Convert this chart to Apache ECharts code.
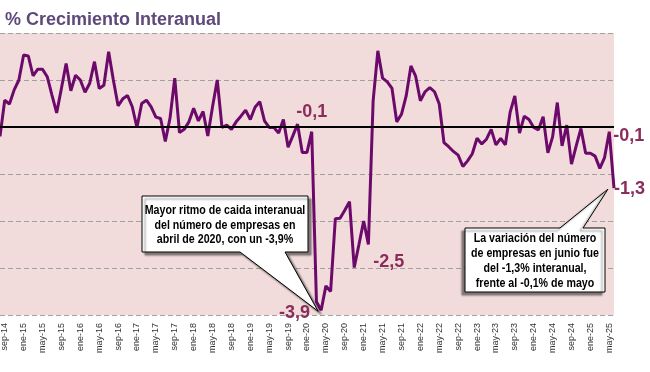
<!DOCTYPE html>
<html><head><meta charset="utf-8">
<script src="https://cdn.jsdelivr.net/npm/echarts@6/dist/echarts.min.js"></script>
<style>html,body{margin:0;padding:0;background:#fff}#c{width:650px;height:372px}</style>
</head><body><div id="c"></div>
<script>
const monthNames = ['ene','feb','mar','abr','may','jun','jul','ago','sep','oct','nov','dic'];
const startYear = 2014, startMonth = 7; // ago-14
const values = [
 -0.2, 0.57, 0.49, 0.79, 1.0, 1.53, 1.51, 1.09, 1.23, 1.23,
 1.07, 0.68, 0.30, 0.82, 1.35, 0.77, 1.1, 1.0, 0.74, 0.93,
 1.39, 0.82, 0.89, 1.60, 1.0, 0.45, 0.6, 0.67, 0.43, -0.01,
 0.5, 0.57, 0.43, 0.21, 0.18, -0.31, 0.19, 1.04, -0.12, -0.05,
 0.11, 0.40, 0.13, 0.33, -0.19, 0.43, 1.0, -0.01, 0.04, -0.05,
 0.11, 0.23, 0.36, 0.16, 0.42, 0.54, 0.13, -0.01, -0.01, -0.13,
 0.16, -0.43, -0.19, 0.06, -0.54, -0.54, -0.1, -3.72, -3.9, -3.38,
 -3.5, -1.95, -1.94, -1.77, -1.59, -2.99, -2.5, -2.0, -2.5, 0.55,
 1.62, 1.04, 0.96, 0.82, 0.11, 0.27, 0.66, 1.30, 1.08, 0.56,
 0.75, 0.84, 0.75, 0.49, -0.33, -0.42, -0.52, -0.6, -0.84, -0.72,
 -0.57, -0.24, -0.36, -0.26, -0.05, -0.38, -0.24, -0.38, 0.31, 0.66,
 -0.13, 0.23, 0.16, -0.01, -0.06, 0.22, -0.55, -0.21, 0.52, -0.40,
 0.04, -0.79, -0.40, -0.03, -0.56, -0.56, -0.62, -0.88, -0.65, -0.1,
 -1.3
];
const categories = [];
for (let i = 0; i < values.length; i++) {
  const m = (startMonth + i) % 12;
  const y = startYear + Math.floor((startMonth + i) / 12);
  categories.push(monthNames[m] + '-' + String(y).slice(2));
}
const titleText = '% Crecimiento Interanual';
const yTicks = { min: -4, max: 2, step: 1 };
const labeledPoints = [66, 68, 78, 129, 130];
const note1 = 'Mayor ritmo de caida interanual\ndel número de empresas en\nabril de 2020, con un -3,9%';
const note2 = 'La variación del número\nde empresas en junio fue\ndel -1,3% interanual,\nfrente al -0,1% de mayo';

const labelStyles = {
  66: { position: [0, -11], align: 'center', verticalAlign: 'bottom' },
  68: { position: [-11, 3], align: 'right', verticalAlign: 'middle' },
  78: { position: [5, 18], align: 'left', verticalAlign: 'middle' },
  129: { position: [4, 4], align: 'left', verticalAlign: 'middle' },
  130: { position: [0, 1], align: 'left', verticalAlign: 'middle' }
};
const labelColor = '#8B2D5B';
const seriesData = values.map((v, i) => {
  if (labeledPoints.indexOf(i) >= 0) {
    return { value: v, symbol: 'circle', symbolSize: 0.1,
      label: Object.assign({ show: true, color: labelColor, fontSize: 18, fontWeight: 'bold',
      fontFamily: 'Liberation Sans, Arial, sans-serif',
      formatter: p => p.value.toFixed(1).replace('.', ',') }, labelStyles[i]) };
  }
  return { value: v, symbol: 'none' };
});

const chart = echarts.init(document.getElementById('c'), null, { renderer: 'canvas' });
const option = {
  animation: false,
  backgroundColor: '#fff',
  title: { text: titleText, left: 0, top: 6,
    textStyle: { fontSize: 18, fontWeight: 'bold', color: '#5F497A', fontFamily: 'Liberation Sans, Arial, sans-serif' } },
  grid: { left: 0, right: 36, top: 33, bottom: 57, show: true, backgroundColor: '#F2DCDB', borderWidth: 0,
    containLabel: false, outerBoundsMode: 'none' },
  xAxis: {
    type: 'category', data: categories, boundaryGap: false,
    axisLine: { show: false }, axisTick: { show: false }, splitLine: { show: false },
    axisLabel: { rotate: 90, interval: (i) => (i - 1) % 4 === 0, fontSize: 9, color: '#333', margin: 8,
      fontFamily: 'Liberation Sans, Arial, sans-serif' }
  },
  yAxis: {
    type: 'value', min: yTicks.min, max: yTicks.max, interval: yTicks.step,
    axisLabel: { show: false }, axisLine: { show: false }, axisTick: { show: false },
    splitLine: { show: true, lineStyle: { color: '#A0A0A0', width: 1, type: [5, 3] } }
  },
  series: [
    { type: 'line', data: [], z: 1, silent: true,
      markLine: { silent: true, symbol: 'none', label: { show: false },
        lineStyle: { color: '#000', type: 'solid', width: 2 }, data: [{ yAxis: 0 }] } },
    { type: 'line', data: seriesData, symbol: 'circle', symbolSize: 0.1, showSymbol: true, showAllSymbol: true, z: 3,
      lineStyle: { color: '#6C0A6C', width: 3 }, itemStyle: { color: '#6C0A6C' } }
  ]
};
chart.setOption(option);

function px(i) { return chart.convertToPixel({ seriesIndex: 1 }, [i, values[i]]); }
const t1 = px(68), t2 = px(130);
const font = 'bold 13px "Liberation Sans", Arial, sans-serif';
const narrow = 0.82;
const box1 = { x1: 142, y1: 196, x2: 308, y2: 252, b1: 240, b2: 285 };
const box2 = { x1: 465, y1: 228, x2: 605, y2: 292, b1: 560, b2: 583 };
chart.setOption({
  graphic: [
    { type: 'polygon', z: 100,
      shape: { points: [[box1.x1, box1.y1], [box1.x2, box1.y1], [box1.x2, box1.y2], [box1.b2, box1.y2],
        [t1[0] - 3, t1[1] + 1], [box1.b1, box1.y2], [box1.x1, box1.y2]] },
      style: { fill: '#fff', stroke: '#000', lineWidth: 1, shadowBlur: 2, shadowOffsetX: 3, shadowOffsetY: 3, shadowColor: 'rgba(0,0,0,0.45)' } },
    { type: 'text', z: 101, x: (box1.x1 + box1.x2) / 2, y: (box1.y1 + box1.y2) / 2 + 1, scaleX: narrow,
      style: { text: note1, font: font, fill: '#000', align: 'center', verticalAlign: 'middle', lineHeight: 14.5 } },
    { type: 'polygon', z: 100,
      shape: { points: [[box2.x1, box2.y1], [box2.b1, box2.y1], [t2[0] - 6, t2[1] + 1], [box2.b2, box2.y1],
        [box2.x2, box2.y1], [box2.x2, box2.y2], [box2.x1, box2.y2]] },
      style: { fill: '#fff', stroke: '#000', lineWidth: 1, shadowBlur: 2, shadowOffsetX: -3, shadowOffsetY: 3, shadowColor: 'rgba(0,0,0,0.45)' } },
    { type: 'text', z: 101, x: (box2.x1 + box2.x2) / 2, y: (box2.y1 + box2.y2) / 2 + 1, scaleX: narrow,
      style: { text: note2, font: font, fill: '#000', align: 'center', verticalAlign: 'middle', lineHeight: 15 } }
  ]
});
</script>
</body></html>
